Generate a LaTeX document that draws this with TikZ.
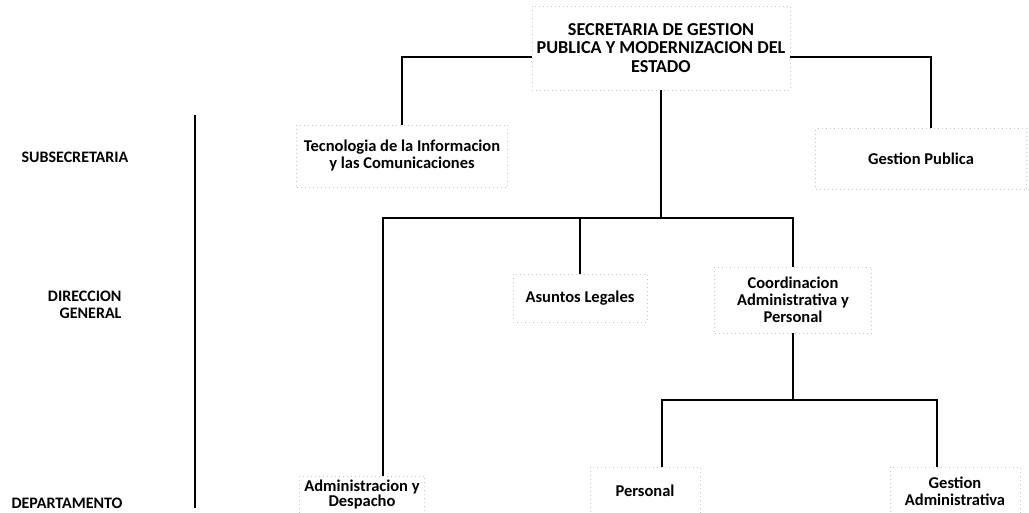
\documentclass[tikz,border=0pt]{standalone}
\usepackage{fontspec}
\setmainfont{Carlito}
\usepackage{tikz}
\usetikzlibrary{positioning,calc}

\begin{document}
\begin{tikzpicture}[x=1pt,y=-1pt,
    unit/.style={draw=gray!45, dash pattern=on 1pt off 3pt, line width=0.6pt,
                 align=center, inner sep=2pt, font=\bfseries\fontsize{16.5}{17}\selectfont},
    head/.style={unit, font=\bfseries\fontsize{18.2}{18.5}\selectfont},
    level/.style={align=right, font=\bfseries\fontsize{16}{16.5}\selectfont},
    line/.style={line width=1.1pt, black}]
    \useasboundingbox (0,0) rectangle (1029,512);

    % Levels
    \node[level] (sub) at (75,157) {SUBSECRETARIA};
    \node[level, anchor=east] (dir) at (125,305) {DIRECCION\\GENERAL};
    \node[level] (dep) at (67,503) {DEPARTAMENTO};
    \coordinate (dtop) at (195,115);
    \coordinate (dbot) at (195,508);
    \draw[line] (dtop) -- (dbot);

    % Secretaria
    \node[head, minimum width=258, minimum height=84] (sec) at (661,48)
        {SECRETARIA DE GESTION\\PUBLICA Y MODERNIZACION DEL\\ESTADO};

    % Subsecretarias
    \node[unit, minimum width=211, minimum height=62] (tic) at (402,156)
        {Tecnologia de la Informacion\\y las Comunicaciones};
    \node[unit, minimum width=211, minimum height=61] (gp) at (921,159)
        {Gestion Publica};

    % Direcciones generales
    \node[unit, minimum width=134, minimum height=48] (al) at (580,298)
        {Asuntos Legales};
    \node[unit, minimum width=157, minimum height=66] (cap) at (793,300)
        {Coordinacion\\Administrativa y\\Personal};

    % Departamentos
    \node[unit, minimum width=125, minimum height=38,
          font=\bfseries\fontsize{16.5}{15}\selectfont] (ad) at (362,495)
        {Administracion y\\Despacho};
    \node[unit, minimum width=110, minimum height=48] (per) at (645,491)
        {Personal};
    \node[unit, minimum width=130, minimum height=48] (ga) at (955,491)
        {Gestion\\Administrativa};

    % Connectors
    \coordinate (j1) at (663,218);
    \coordinate (j2) at (793,400);
    \draw[line] ($(sec.west)+(0,9)$) -| (tic.north);
    \draw[line] ($(sec.east)+(0,9)$) -| ([xshift=10pt]gp.north);
    \draw[line] (sec.south) -- (sec.south |- j1);
    \draw[line] ([xshift=21pt]ad.north) -- ([xshift=21pt]ad.north |- j1)
        -- (cap.north |- j1) -- (cap.north);
    \draw[line] (al.north) -- (al.north |- j1);
    \draw[line] (cap.south) -- (j2);
    \draw[line] ([xshift=17pt]per.north) |- (j2) -| ([xshift=-18pt]ga.north);
\end{tikzpicture}
\end{document}
